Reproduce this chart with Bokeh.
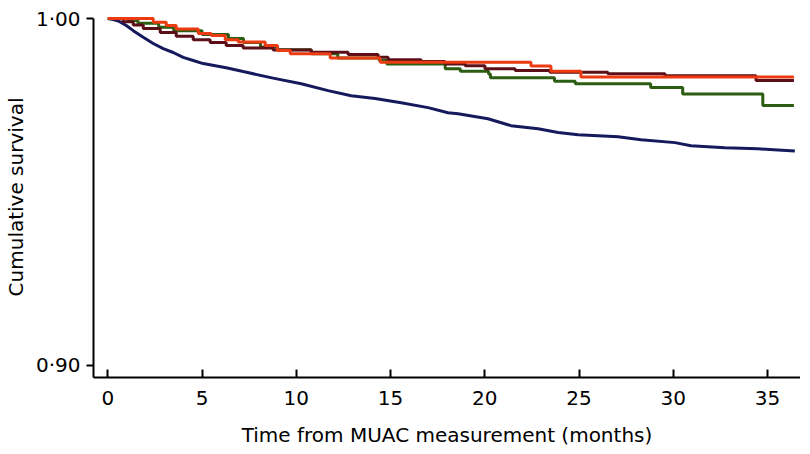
from bokeh.plotting import figure
from bokeh.embed import file_html
from bokeh.resources import INLINE
from bokeh.models import FixedTicker, CustomJSTickFormatter, Range1d

# ---- data ----
navy_t = [0, 0.29, 0.56, 0.98, 1.35, 1.88, 2.41, 2.94, 3.47, 4.00, 4.53, 5.06, 6.28, 7.18, 8.77,
          10.26, 11.69, 12.91, 14.18, 15.56, 16.99, 18.05, 18.58, 20.17, 21.39, 22.83, 23.89,
          24.95, 27.07, 28.29, 30.09, 30.94, 32.74, 34.49, 35.55, 36.45]
navy_s = [1.0, 0.9997, 0.9993, 0.9980, 0.9965, 0.9946, 0.9928, 0.9913, 0.9902, 0.9888, 0.9879,
          0.9870, 0.9858, 0.9847, 0.9828, 0.9812, 0.9792, 0.9777, 0.9769, 0.9757, 0.9743,
          0.9728, 0.9725, 0.9711, 0.9691, 0.9682, 0.9671, 0.9665, 0.9659, 0.9650, 0.9642,
          0.9633, 0.9627, 0.9624, 0.9621, 0.9618]

green_t = [0, 1.1, 1.6, 2.7, 3.5, 5.0, 6.4, 7.2, 8.1, 9.0, 10.8, 12.2, 14.4, 14.8, 17.9, 18.7,
           20.2, 20.3, 23.7, 24.8, 28.8, 30.5, 34.75, 36.4]
green_s = [1.0, 0.9994, 0.9986, 0.9975, 0.9965, 0.9954, 0.9942, 0.9931, 0.9918, 0.9910, 0.9898,
           0.9886, 0.9879, 0.9869, 0.9855, 0.9848, 0.9840, 0.9829, 0.9819, 0.9812, 0.9801,
           0.9782, 0.9749, 0.9749]

maroon_t = [0, 0.45, 0.82, 1.35, 1.88, 2.78, 3.63, 4.53, 5.43, 6.28, 7.18, 8.77, 10.79, 12.75,
            14.34, 14.87, 16.62, 17.89, 18.96, 20.01, 21.61, 23.46, 26.53, 29.56, 34.39, 36.4]
maroon_s = [1.0, 0.9999, 0.9991, 0.9981, 0.9971, 0.9960, 0.9949, 0.9939, 0.9931, 0.9922, 0.9915,
            0.9909, 0.9903, 0.9896, 0.9888, 0.9881, 0.9876, 0.9869, 0.9864, 0.9855, 0.9850,
            0.9845, 0.9841, 0.9835, 0.9821, 0.9821]

red_t = [0, 2.41, 3.10, 3.63, 4.80, 5.49, 6.23, 6.92, 8.35, 9.0, 9.68, 11.80, 14.45, 22.45,
         23.51, 25.10, 36.4]
red_s = [1.0, 0.9989, 0.9980, 0.9970, 0.9957, 0.9951, 0.9939, 0.9932, 0.9922, 0.9908, 0.9898,
         0.9886, 0.9874, 0.9863, 0.9848, 0.9831, 0.9831]

x_ticks = [0, 5, 10, 15, 20, 25, 30, 35]
y_ticks = [0.90, 1.00]
x_title = "Time from MUAC measurement (months)"
y_title = "Cumulative survival"

FONT = "DejaVu Sans"

p = figure(frame_width=707, frame_height=361, output_backend="svg", toolbar_location=None,
           x_range=Range1d(-0.759, 36.75), y_range=Range1d(0.89645, 1.00058),
           min_border_left=87, min_border_top=16, min_border_right=0, min_border_bottom=75)
p.outline_line_color = None
p.grid.visible = False
p.background_fill_color = "white"
p.border_fill_color = "white"

p.line(navy_t, navy_s, line_color="#161a5c", line_width=3)
p.step(green_t, green_s, mode="after", line_color="#2b5e12", line_width=3)
p.step(maroon_t, maroon_s, mode="after", line_color="#5c0f18", line_width=3)
p.step(red_t, red_s, mode="after", line_color="#ec3b12", line_width=3)

xa = p.xaxis[0]
xa.ticker = FixedTicker(ticks=x_ticks)
xa.major_tick_in = 8
xa.major_tick_out = 0
xa.minor_tick_line_color = None
xa.axis_line_width = 2
xa.major_tick_line_width = 2
xa.axis_line_color = "black"
xa.major_label_text_font = FONT
xa.major_label_text_font_size = "20px"
xa.major_label_text_color = "black"
xa.major_label_standoff = 13
xa.axis_label = x_title
xa.axis_label_text_font = FONT
xa.axis_label_text_font_size = "20px"
xa.axis_label_text_font_style = "normal"
xa.axis_label_text_color = "black"
xa.axis_label_standoff = 15

ya = p.yaxis[0]
ya.ticker = FixedTicker(ticks=y_ticks)
ya.formatter = CustomJSTickFormatter(code="return tick.toFixed(2).replace('.', '\u00b7');")
ya.bounds = (0.89645, 1.0)
ya.major_tick_in = 0
ya.major_tick_out = 7
ya.minor_tick_line_color = None
ya.axis_line_width = 2
ya.major_tick_line_width = 2
ya.major_label_text_font = FONT
ya.major_label_text_font_size = "20px"
ya.major_label_text_color = "black"
ya.major_label_standoff = 6
ya.axis_label = y_title
ya.axis_label_text_font = FONT
ya.axis_label_text_font_size = "20px"
ya.axis_label_text_font_style = "normal"
ya.axis_label_text_color = "black"
ya.axis_label_standoff = 5

open("out.html", "w").write(file_html(p, INLINE))
